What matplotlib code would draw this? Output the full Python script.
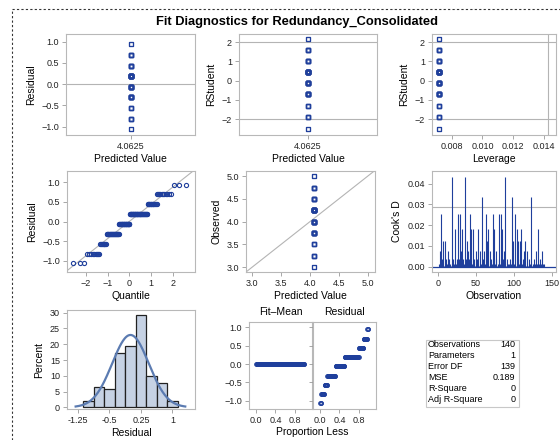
import numpy as np
import matplotlib
matplotlib.use("Agg")
import matplotlib.pyplot as plt
from matplotlib.lines import Line2D
from matplotlib.patches import Rectangle
from statistics import NormalDist

plt.rcParams['font.family'] = ['Liberation Sans', 'DejaVu Sans']

# Redundancy_Consolidated, observations 1..140 (order estimated from the Cook's D needles)
observed = [
    4.25, 4.5, 4.0, 3.25, 3.75, 3.5, 4.25, 4.0, 3.5, 4.25,
    3.75, 4.25, 4.5, 4.0, 3.75, 4.25, 4.0, 3.0, 4.25, 3.75,
    4.25, 4.0, 4.75, 4.25, 3.75, 4.0, 3.25, 3.75, 3.25, 4.5,
    4.25, 4.75, 3.75, 4.25, 3.0, 4.0, 3.75, 3.5, 4.5, 4.25,
    3.75, 3.25, 4.0, 4.75, 4.25, 4.75, 4.25, 3.75, 4.0, 4.5,
    4.25, 3.75, 4.75, 4.0, 4.25, 4.5, 4.25, 5.0, 4.0, 3.75,
    4.5, 4.25, 3.25, 3.75, 3.5, 4.75, 4.0, 4.25, 4.5, 3.75,
    4.25, 3.25, 4.0, 4.75, 4.25, 3.75, 4.5, 4.0, 4.25, 3.25,
    3.75, 4.25, 3.25, 4.0, 4.75, 3.75, 4.5, 4.25, 3.0, 4.0,
    3.75, 4.25, 4.25, 4.0, 3.75, 4.25, 5.0, 4.0, 3.5, 4.25,
    3.25, 4.25, 4.0, 4.75, 3.75, 3.5, 4.25, 3.5, 4.0, 4.75,
    4.25, 3.75, 4.5, 4.25, 3.5, 4.0, 4.25, 4.5, 4.0, 3.75,
    4.25, 5.0, 4.25, 4.0, 4.25, 3.75, 4.0, 4.25, 4.5, 4.25,
    4.0, 4.75, 4.25, 3.75, 4.0, 4.25, 4.5, 4.25, 4.0, 4.25,
]
stat_labels = ["Observations", "Parameters", "Error DF", "MSE", "R-Square", "Adj R-Square"]

y = np.array(observed)
n = len(y)
p = 1
pred = np.full(n, y.mean())
resid = y - pred
h = np.full(n, 1.0 / n)
sse = np.sum(resid ** 2)
mse = sse / (n - p)
s2_i = ((n - p) * mse - resid ** 2 / (1 - h)) / (n - p - 1)
rstud = resid / np.sqrt(s2_i * (1 - h))
cooks = resid ** 2 / (p * mse) * h / (1 - h) ** 2
obs_no = np.arange(1, n + 1)
stat_values = [str(n), str(p), str(n - p), "%.3f" % mse, "0", "0"]

blue = '#1f3f9c'
gray = '#b4b4b4'
W, H = 560, 440


def box(x0, y0, x1, y1):
    return [x0 / W, 1 - y1 / H, (x1 - x0) / W, (y1 - y0) / H]


def style(ax):
    for s in ax.spines.values():
        s.set_color('#b8b8b8')
        s.set_linewidth(0.8)
    ax.tick_params(labelsize=6.5, colors='#222222', color='#999999',
                   length=3, width=0.6, pad=2)
    ax.xaxis.label.set_size(7.5)
    ax.yaxis.label.set_size(7.5)


def sq(ax, xs, ys, m='s', ms=2.6):
    ax.plot(xs, ys, ls='none', marker=m, ms=ms, mfc='none', mec=blue, mew=0.8)


fig = plt.figure(figsize=(5.6, 4.4), dpi=100)
fig.add_artist(Line2D([12 / W, 1], [1 - 9 / H, 1 - 9 / H], transform=fig.transFigure,
                      color='#333333', lw=0.8, ls=(0, (2, 2))))
fig.add_artist(Line2D([12 / W, 12 / W], [0, 1 - 9 / H], transform=fig.transFigure,
                      color='#333333', lw=0.8, ls=(0, (2, 2))))
fig.text(297 / W, 1 - 22 / H, "Fit Diagnostics for Redundancy_Consolidated",
         ha='center', va='center', fontsize=9.3, fontweight='bold')

# residual vs predicted
ax = fig.add_axes(box(66, 34, 195, 135))
ax.axhline(0, color=gray, lw=0.8)
sq(ax, pred, resid)
ax.set_xlim(pred[0] - 1, pred[0] + 1)
ax.set_xticks([pred[0]])
ax.set_xticklabels(["%.4f" % pred[0]])
ax.set_ylim(-1.195, 1.18)
ax.set_yticks([-1.0, -0.5, 0.0, 0.5, 1.0])
ax.set_xlabel("Predicted Value", labelpad=2)
ax.set_ylabel("Residual")
style(ax)

# rstudent vs predicted
ax = fig.add_axes(box(239, 34, 377, 135))
ax.axhline(2, color=gray, lw=0.8)
ax.axhline(-2, color=gray, lw=0.8)
sq(ax, pred, rstud)
ax.set_xlim(pred[0] - 1, pred[0] + 1)
ax.set_xticks([pred[0]])
ax.set_xticklabels(["%.4f" % pred[0]])
ax.set_ylim(-2.83, 2.43)
ax.set_yticks([-2, -1, 0, 1, 2])
ax.set_xlabel("Predicted Value", labelpad=2)
ax.set_ylabel("RStudent")
style(ax)

# rstudent vs leverage
ax = fig.add_axes(box(432, 34, 556, 135))
ax.axhline(2, color=gray, lw=0.8)
ax.axhline(-2, color=gray, lw=0.8)
ax.axvline(2 * p / n, color=gray, lw=0.8)
sq(ax, h, rstud)
ax.set_xlim(0.00672, 0.01478)
ax.set_xticks([0.008, 0.010, 0.012, 0.014])
ax.set_xticklabels(["0.008", "0.010", "0.012", "0.014"])
ax.set_ylim(-2.83, 2.43)
ax.set_yticks([-2, -1, 0, 1, 2])
ax.set_xlabel("Leverage", labelpad=2)
ax.set_ylabel("RStudent")
style(ax)

# QQ plot
ax = fig.add_axes(box(67, 171, 195, 272))
srt = np.sort(resid)
q = np.array([NormalDist().inv_cdf((i - 0.375) / (n + 0.25)) for i in range(1, n + 1)])
ax.axline((0, 0), slope=np.sqrt(mse), color=gray, lw=0.8)
sq(ax, q, srt, m='o', ms=3)
ax.set_xlim(-2.87, 3.03)
ax.set_xticks([-2, -1, 0, 1, 2])
ax.set_ylim(-1.28, 1.28)
ax.set_yticks([-1.0, -0.5, 0.0, 0.5, 1.0])
ax.set_xlabel("Quantile", labelpad=2)
ax.set_ylabel("Residual")
style(ax)

# observed vs predicted
ax = fig.add_axes(box(246, 171, 375, 272))
ax.axline((3, 3), slope=1, color=gray, lw=0.8)
sq(ax, pred, y)
ax.set_xlim(2.89, 5.13)
ax.set_ylim(2.89, 5.117)
ax.set_xticks([3.0, 3.5, 4.0, 4.5, 5.0])
ax.set_yticks([3.0, 3.5, 4.0, 4.5, 5.0])
ax.set_xlabel("Predicted Value", labelpad=2)
ax.set_ylabel("Observed")
style(ax)

# Cook's D
ax = fig.add_axes(box(432, 171, 556, 272))
ax.axhline(4 / n, color=gray, lw=0.8)
ax.vlines(obs_no, 0, cooks, color=blue, lw=0.8)
ax.axhline(0, color=blue, lw=0.9)
ax.set_xlim(-7.9, 155.6)
ax.set_xticks([0, 50, 100, 150])
ax.set_ylim(-0.0026, 0.0461)
ax.set_yticks([0, 0.01, 0.02, 0.03, 0.04])
ax.set_yticklabels(["0.00", "0.01", "0.02", "0.03", "0.04"])
ax.set_xlabel("Observation", labelpad=2)
ax.set_ylabel("Cook's D")
style(ax)

# histogram of residuals
ax = fig.add_axes(box(67, 310, 195, 409))
edges = np.arange(-1.125, 1.126, 0.25)
ax.hist(resid, bins=edges, weights=np.full(n, 100.0 / n),
        color='#c6d2e4', edgecolor='#222222', lw=0.9)
sd = np.sqrt(mse)
xs = np.linspace(-3 * sd, 3 * sd, 200)
ax.plot(xs, 100 * 0.25 / (sd * np.sqrt(2 * np.pi)) * np.exp(-0.5 * (xs / sd) ** 2),
        color='#5b7bb1', lw=1.6)
ax.set_xlim(-1.51, 1.536)
ax.set_xticks([-1.25, -0.5, 0.25, 1])
ax.set_xticklabels(["-1.25", "-0.5", "0.25", "1"])
ax.set_ylim(-0.54, 30.86)
ax.set_yticks([0, 5, 10, 15, 20, 25, 30])
ax.set_xlabel("Residual", labelpad=2)
ax.set_ylabel("Percent")
style(ax)

# residual-fit spread
prop = (np.arange(1, n + 1) - 0.5) / n
ax = fig.add_axes(box(249, 322, 312, 409))
sq(ax, prop, np.sort(pred - y.mean()), m='o', ms=2.6)
ax.set_xlim(-0.15, 1.16)
ax.set_ylim(-1.217, 1.136)
ax.set_xticks([0.0, 0.4, 0.8])
ax.set_yticks([-1.0, -0.5, 0.0, 0.5, 1.0])
style(ax)
ax2 = fig.add_axes(box(313, 322, 376, 409))
sq(ax2, prop, srt, m='o', ms=2.6)
ax2.set_xlim(-0.15, 1.16)
ax2.set_ylim(-1.217, 1.136)
ax2.set_xticks([0.0, 0.4, 0.8])
ax2.set_yticks([-1.0, -0.5, 0.0, 0.5, 1.0])
ax2.set_yticklabels([])
ax2.tick_params(axis='y', length=0)
style(ax2)
fig.text(280.5 / W, 1 - 312 / H, "Fit\u2013Mean", ha='center', va='center', fontsize=7.5)
fig.text(344.7 / W, 1 - 312 / H, "Residual", ha='center', va='center', fontsize=7.5)
fig.text(312 / W, 1 - 432 / H, "Proportion Less", ha='center', va='center', fontsize=7.5)

# fit statistics table
fig.add_artist(Rectangle((426 / W, 1 - 407 / H), 93 / W, 67 / H, transform=fig.transFigure,
                         fill=False, edgecolor='#c8c8c8', lw=0.8))
for i in range(len(stat_labels)):
    yy = 1 - (344.3 + 11 * i) / H
    fig.text(428 / W, yy, stat_labels[i], ha='left', va='center', fontsize=6.5)
    fig.text(515.5 / W, yy, stat_values[i], ha='right', va='center', fontsize=6.5)

fig.savefig("out.png", dpi=100)
